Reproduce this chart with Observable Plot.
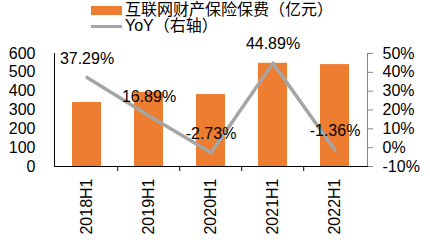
<!DOCTYPE html>
<html>
<head>
<meta charset="utf-8">
<script src="https://cdn.jsdelivr.net/npm/d3@7"></script>
<script src="https://cdn.jsdelivr.net/npm/@observablehq/plot@0.6"></script>
<style>
  html, body { margin: 0; padding: 0; background: #fff; }
  #wrap { position: relative; width: 430px; height: 243px; font-family: "Liberation Sans", Arial, "Noto Sans CJK SC", sans-serif; }
  #legend { position: absolute; left: 91px; top: 2px; font-size: 16px; color: #000; line-height: 16px; z-index: 2; }
  .row { display: flex; align-items: center; height: 16px; }
  .sw { width: 31px; margin-right: 3px; }
</style>
</head>
<body>
<div id="wrap">
  <div id="legend"></div>
  <div id="chart"></div>
</div>
<script>
const categories = ["2018H1", "2019H1", "2020H1", "2021H1", "2022H1"];
const premiums = [340, 393, 382, 548, 541];
const yoy = [37.29, 16.89, -2.73, 44.89, -1.36];
const leftTicks = [0, 100, 200, 300, 400, 500, 600];
const rightTicks = [-10, 0, 10, 20, 30, 40, 50];
const seriesNames = ["互联网财产保险保费（亿元）", "YoY（右轴）"];
const colors = ["#ED7D31", "#A5A5A5"];

// right axis (pct) mapped onto left scale: -10% -> 0, 50% -> 600
const toLeft = p => (p + 10) * 10;
const data = categories.map((c, i) => ({cat: c, premium: premiums[i], yoy: yoy[i]}));

const width = 430, mL = 54, mR = 63;
const step = (width - mL - mR) / categories.length;

const chart = Plot.plot({
  width, height: 243,
  marginTop: 53, marginBottom: 77, marginLeft: mL, marginRight: mR,
  style: {fontFamily: '"Liberation Sans", Arial, sans-serif', fontSize: "16px", color: "#000", background: "transparent"},
  x: {domain: categories, paddingInner: 0.54, paddingOuter: 0.27, axis: null, label: null},
  y: {domain: [0, 600], axis: null, label: null},
  marks: [
    Plot.barY(data, {x: "cat", y: "premium", fill: colors[0]}),
    Plot.line(data, {x: "cat", y: d => toLeft(d.yoy), stroke: colors[1], strokeWidth: 3.5}),
    Plot.text(data, {x: "cat", y: d => toLeft(d.yoy), text: d => d.yoy.toFixed(2) + "%", dy: -19, fontSize: 16, fill: "#000"}),
    Plot.axisY(leftTicks, {anchor: "left", label: null, tickSize: 0, tickPadding: 19, fontSize: 16, fill: "#000"}),
    Plot.axisY(rightTicks.map(toLeft), {anchor: "right", label: null, tickSize: 5, tickPadding: 10, fontSize: 16, fill: "#000", stroke: "#868686", tickFormat: d => (d / 10 - 10) + "%"}),
    Plot.axisX({label: null, tickSize: 0, tickPadding: 12, tickRotate: -90, fontSize: 16, fill: "#000"}),
    Plot.axisX(categories.slice(1), {label: null, text: null, tickSize: 5, dx: -step / 2, stroke: "#000"}),
    Plot.frame({anchor: "left", stroke: "#000"}),
    Plot.frame({anchor: "right", stroke: "#868686"}),
    Plot.frame({anchor: "bottom", stroke: "#000"})
  ]
});
document.getElementById("chart").appendChild(chart);

const legend = document.getElementById("legend");
seriesNames.forEach((name, i) => {
  const row = document.createElement("div");
  row.className = "row";
  const sw = document.createElement("div");
  sw.className = "sw";
  sw.style.height = i === 0 ? "9px" : "3px";
  sw.style.background = colors[i];
  const t = document.createElement("span");
  t.textContent = name;
  row.appendChild(sw);
  row.appendChild(t);
  legend.appendChild(row);
});
</script>
</body>
</html>
